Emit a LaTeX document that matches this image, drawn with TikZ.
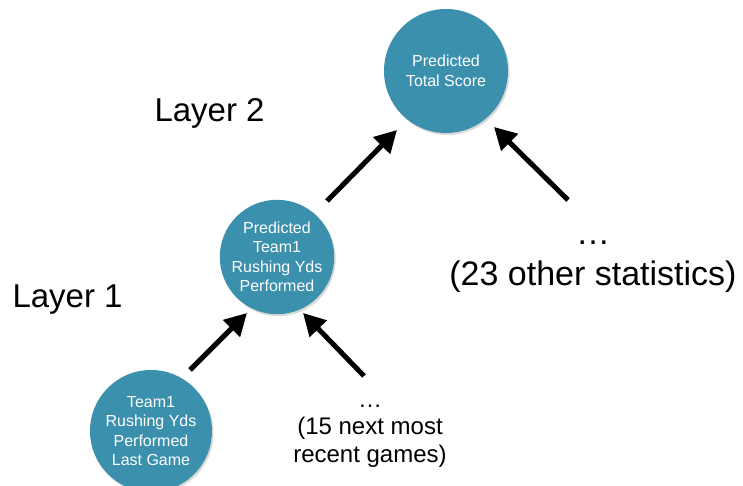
\documentclass[tikz,border=0pt]{standalone}
\usepackage{fontspec}
\setmainfont{Liberation Sans}
\usetikzlibrary{arrows.meta,shadows}
\definecolor{nodeblue}{RGB}{58,144,173}
\tikzset{
  stat/.style={circle, fill=nodeblue, text=white, minimum size=#1, inner sep=0pt,
    align=center, font=\fontsize{16}{19.5}\selectfont,
    drop shadow={opacity=0.3, shadow xshift=1.5pt, shadow yshift=-2pt}},
  layerlabel/.style={anchor=base west, font=\fontsize{33}{40}\selectfont},
  note/.style={align=center, text=black},
  arr/.style={line width=5pt, -{Triangle[length=22pt,width=23pt]}}
}
\begin{document}
\begin{tikzpicture}[x=1pt,y=1pt]
  \useasboundingbox (0,0) rectangle (743,486);

  % network nodes
  \node[stat=124pt] (total) at (446,415) {Predicted\\Total Score};
  \node[stat=114pt] (rush) at (277,229) {Predicted\\Team1\\Rushing Yds\\Performed};
  \node[stat=122pt] (last) at (151,55) {Team1\\Rushing Yds\\Performed\\Last Game};

  % layer captions
  \node[layerlabel] (l2) at (151,364) {Layer 2};
  \node[layerlabel] (l1) at (9,178) {Layer 1};

  % remaining inputs
  \node[note, font=\fontsize{34}{41}\selectfont] (other) at (593,219)
    {\dots\\(23 other statistics)};
  \node[note, font=\fontsize{24}{27.5}\selectfont] (games) at (370,50)
    {\dots\\(15 next most\\recent games)};

  % arrow ends
  \coordinate (a1s) at (190,116);
  \coordinate (a1e) at (247,173);
  \coordinate (a2s) at (364,110);
  \coordinate (a2e) at (303,173);
  \coordinate (a3s) at (327,285);
  \coordinate (a3e) at (397,356);
  \coordinate (a4s) at (568,286);
  \coordinate (a4e) at (494,359);

  \draw[arr] (a1s) -- (a1e);
  \draw[arr] (a2s) -- (a2e);
  \draw[arr] (a3s) -- (a3e);
  \draw[arr] (a4s) -- (a4e);
\end{tikzpicture}
\end{document}
